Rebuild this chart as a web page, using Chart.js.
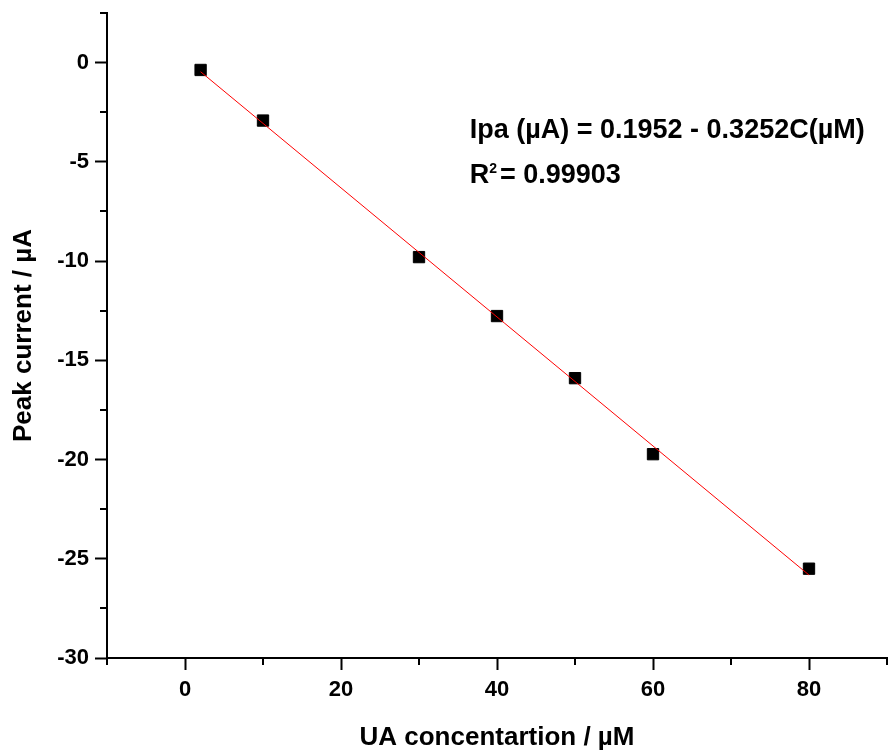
<!DOCTYPE html>
<html>
<head>
<meta charset="utf-8">
<script src="https://cdn.jsdelivr.net/npm/chart.js@4.4.1/dist/chart.umd.min.js"></script>
<style>
  html, body { margin: 0; padding: 0; background: #fff; }
  #wrap { width: 888px; height: 755px; }
</style>
</head>
<body>
<div id="wrap"><canvas id="grafico" width="888" height="755"></canvas></div>
<script>
// Dados
const concentracoes = [2, 10, 30, 40, 50, 60, 80];
const correntes = [-0.37, -2.92, -9.8, -12.77, -15.9, -19.73, -25.5];

// Reta de ajuste (extremos)
const ajusteX = [2, 80];
const ajusteY = [-0.46, -25.82];

// Marcas dos eixos
const ticksX = [0, 20, 40, 60, 80];
const ticksXMenores = [-10, 10, 30, 50, 70, 90];
const ticksY = [-30, -25, -20, -15, -10, -5, 0];
const ticksYMenores = [-27.5, -22.5, -17.5, -12.5, -7.5, -2.5, 2.5];

const equacao = 'Ipa (\u00b5A) = 0.1952 - 0.3252C(\u00b5M)';
const r2Valor = '= 0.99903';

const fonte = "'Liberation Sans', Arial, sans-serif";

// Desenha os ticks menores e o texto da equação
const extras = {
  id: 'extras',
  afterDraw(chart) {
    const ctx = chart.ctx;
    const sx = chart.scales.x;
    const sy = chart.scales.y;
    ctx.save();
    ctx.strokeStyle = '#000';
    ctx.lineWidth = 2;
    ticksXMenores.forEach(v => {
      const px = Math.round(sx.getPixelForValue(v));
      ctx.beginPath();
      ctx.moveTo(px, sx.top);
      ctx.lineTo(px, sx.top + 7);
      ctx.stroke();
    });
    ticksYMenores.forEach(v => {
      const py = Math.round(sy.getPixelForValue(v));
      ctx.beginPath();
      ctx.moveTo(sy.right, py);
      ctx.lineTo(sy.right - 7, py);
      ctx.stroke();
    });

    // equação
    const x0 = sx.getPixelForValue(36.5);
    const y1 = sy.getPixelForValue(-3.79);
    const y2 = sy.getPixelForValue(-6.06);
    ctx.fillStyle = '#000';
    ctx.textBaseline = 'alphabetic';
    ctx.textAlign = 'left';
    ctx.font = 'bold 27px ' + fonte;
    ctx.fillText(equacao, x0, y1);
    ctx.fillText('R', x0, y2);
    const wR = ctx.measureText('R').width;
    ctx.font = 'bold 14px ' + fonte;
    ctx.fillText('2', x0 + wR, y2 - 10);
    const w2 = ctx.measureText('2').width;
    ctx.font = 'bold 27px ' + fonte;
    ctx.fillText(r2Valor, x0 + wR + w2 + 3, y2);
    ctx.restore();
  }
};

const ctxGrafico = document.getElementById('grafico').getContext('2d');
const grafico = new Chart(ctxGrafico, {
  type: 'scatter',
  data: {
    datasets: [
      {
        label: 'Ajuste',
        data: ajusteX.map((x, i) => ({ x: x, y: ajusteY[i] })),
        showLine: true,
        borderColor: '#ff0000',
        borderWidth: 1,
        pointRadius: 0,
        order: 0
      },
      {
        label: 'Dados',
        data: concentracoes.map((x, i) => ({ x: x, y: correntes[i] })),
        pointStyle: 'rect',
        pointRadius: 8,
        pointBackgroundColor: '#000',
        pointBorderColor: '#000',
        pointBorderWidth: 1,
        order: 1
      }
    ]
  },
  options: {
    responsive: false,
    animation: false,
    layout: { autoPadding: false, padding: { top: 13, right: 1, left: 0, bottom: 0 } },
    plugins: {
      legend: { display: false },
      tooltip: { enabled: false }
    },
    scales: {
      x: {
        type: 'linear',
        min: -10,
        max: 90,
        afterBuildTicks: scale => { scale.ticks = ticksX.map(v => ({ value: v })); },
        afterFit: scale => {
          scale.height = 97;
          scale.paddingLeft = 0;
          scale.paddingRight = 0;
        },
        border: { display: true, color: '#000', width: 2 },
        grid: { drawOnChartArea: false, tickLength: 12, tickColor: '#000', tickWidth: 2 },
        ticks: {
          color: '#000',
          padding: 7,
          font: { family: fonte, size: 22, weight: 'bold' }
        },
        title: {
          display: true,
          text: 'UA concentartion / \u00b5M',
          color: '#000',
          padding: { top: 0, bottom: 2 },
          font: { family: fonte, size: 26, weight: 'bold' }
        }
      },
      y: {
        type: 'linear',
        min: -30,
        max: 2.5,
        afterBuildTicks: scale => { scale.ticks = ticksY.map(v => ({ value: v })); },
        afterFit: scale => {
          scale.width = 107;
          scale.paddingTop = 0;
          scale.paddingBottom = 0;
        },
        border: { display: true, color: '#000', width: 2 },
        grid: { drawOnChartArea: false, tickLength: 12, tickColor: '#000', tickWidth: 2 },
        ticks: {
          color: '#000',
          padding: 6,
          font: { family: fonte, size: 22, weight: 'bold' }
        },
        title: {
          display: true,
          text: 'Peak current / \u00b5A',
          color: '#000',
          padding: { top: 8, bottom: 0 },
          font: { family: fonte, size: 26, weight: 'bold' }
        }
      }
    }
  },
  plugins: [extras]
});
</script>
</body>
</html>
